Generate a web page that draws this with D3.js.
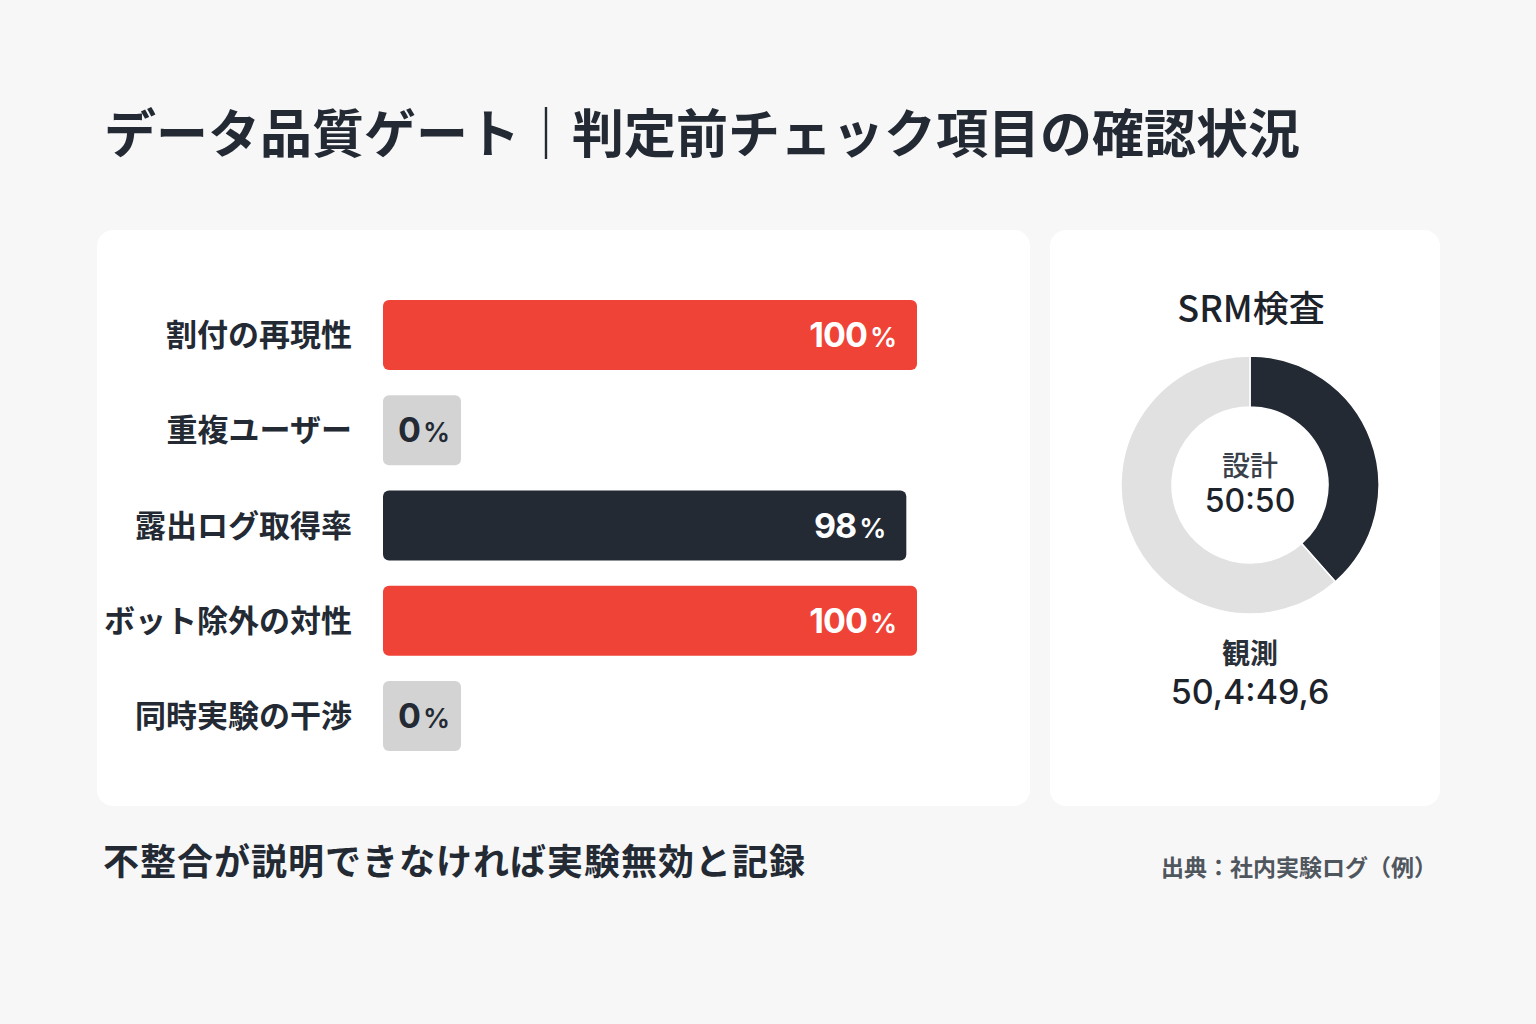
<!DOCTYPE html>
<html lang="ja">
<head>
    <meta charset="UTF-8">
    <title>データ品質ゲート</title>
    <style>
        html, body { margin: 0; padding: 0; background: #f7f7f7; }
        svg { display: block; }
        text { font-family: "Noto Sans CJK JP", "Noto Sans", sans-serif; }
        .num { font-family: Inter, "Noto Sans", sans-serif; }
    </style>
    <script src="https://cdn.jsdelivr.net/npm/d3@7"></script>
</head>
<body>
<script>
// data
var titleText = "データ品質ゲート｜判定前チェック項目の確認状況";
var checkItems = ["割付の再現性", "重複ユーザー", "露出ログ取得率", "ボット除外の対性", "同時実験の干渉"];
var checkValues = [100, 0, 98, 100, 0];
var srmTitle = "SRM検査";
var srmParts = ["観測A", "観測B"];
var srmShares = [38.5, 61.5];
var designLabel = "設計";
var designRatio = "50:50";
var observedLabel = "観測";
var observedRatio = "50,4:49,6";
var footNote = "不整合が説明できなければ実験無効と記録";
var sourceText = "出典：社内実験ログ（例）";

var W = 1536, H = 1024;
var red = "#ef4338", dark = "#232a34", chip = "#d3d3d3", ring = "#e1e1e1";

var svg = d3.select("body").append("svg")
    .attr("width", W)
    .attr("height", H);

svg.append("rect").attr("width", W).attr("height", H).attr("fill", "#f7f7f7");

// title
svg.append("text")
    .attr("x", 104)
    .attr("y", 153)
    .attr("font-size", 52)
    .attr("font-weight", 700)
    .attr("fill", "#232a34")
    .text(titleText);

// cards
svg.append("rect")
    .attr("x", 97).attr("y", 230)
    .attr("width", 933).attr("height", 576)
    .attr("rx", 16)
    .attr("fill", "#ffffff");

svg.append("rect")
    .attr("x", 1050).attr("y", 230)
    .attr("width", 390).attr("height", 576)
    .attr("rx", 16)
    .attr("fill", "#ffffff");

// bar chart
var x = d3.scaleLinear().domain([0, 100]).range([383, 917]);
var y = d3.scaleBand().domain(checkItems).range([300, 751]).paddingInner(0.265).paddingOuter(0);
var minChip = 78;

function barColor(v) {
    if (v === 0) return chip;
    if (v === 100) return red;
    return dark;
}

var rows = svg.append("g").selectAll("g")
    .data(checkItems.map(function(c, i) { return {name: c, value: checkValues[i]}; }))
    .join("g");

rows.append("text")
    .attr("x", 352)
    .attr("y", d => y(d.name) + y.bandwidth() / 2)
    .attr("dy", "0.36em")
    .attr("text-anchor", "end")
    .attr("font-size", 31)
    .attr("font-weight", 700)
    .attr("fill", "#232a34")
    .text(d => d.name);

rows.append("rect")
    .attr("x", x(0))
    .attr("y", d => y(d.name))
    .attr("width", d => Math.max(minChip, x(d.value) - x(0)))
    .attr("height", y.bandwidth())
    .attr("rx", 6)
    .attr("fill", d => barColor(d.value));

var valText = rows.append("text")
    .attr("class", "num")
    .attr("x", d => d.value === 0 ? x(0) + minChip / 2 + 2 : x(d.value) - 20)
    .attr("y", d => y(d.name) + y.bandwidth() / 2 + 12)
    .attr("font-size", 34)
    .attr("text-anchor", d => d.value === 0 ? "middle" : "end")
    .attr("font-weight", 700)
    .attr("fill", d => d.value === 0 ? dark : "#ffffff");

valText.append("tspan")
    .attr("letter-spacing", -1)
    .text(d => d.value);
valText.append("tspan")
    .attr("font-size", 27)
    .attr("font-weight", 600)
    .attr("dx", 3)
    .text("%");

// donut
var cx = 1250, cy = 485;
var pie = d3.pie().sort(null).value(d => d);
var arc = d3.arc().innerRadius(78).outerRadius(129);

svg.append("text")
    .attr("x", 1251)
    .attr("y", 322)
    .attr("text-anchor", "middle")
    .attr("font-size", 36)
    .attr("font-weight", 500)
    .attr("fill", "#1d232b")
    .text(srmTitle);

var donut = svg.append("g").attr("transform", "translate(" + cx + "," + cy + ")");
donut.selectAll("path")
    .data(pie(srmShares))
    .join("path")
    .attr("d", arc)
    .attr("fill", (d, i) => i === 0 ? dark : ring)
    .attr("stroke", "#ffffff")
    .attr("stroke-width", 1.5)
    .append("title").text((d, i) => srmParts[i]);

svg.append("text")
    .attr("x", cx).attr("y", 476)
    .attr("text-anchor", "middle")
    .attr("font-size", 28)
    .attr("font-weight", 500)
    .attr("fill", "#3a414a")
    .text(designLabel);

svg.append("text")
    .attr("class", "num")
    .attr("x", cx).attr("y", 512)
    .attr("text-anchor", "middle")
    .attr("font-size", 32)
    .attr("font-weight", 500)
    .attr("fill", "#1d232b")
    .text(designRatio);

svg.append("text")
    .attr("x", cx).attr("y", 664)
    .attr("text-anchor", "middle")
    .attr("font-size", 28)
    .attr("font-weight", 700)
    .attr("fill", "#2a3038")
    .text(observedLabel);

svg.append("text")
    .attr("class", "num")
    .attr("x", cx).attr("y", 704)
    .attr("text-anchor", "middle")
    .attr("font-size", 34)
    .attr("font-weight", 500)
    .attr("fill", "#1d232b")
    .text(observedRatio);

// footer
svg.append("text")
    .attr("x", 103)
    .attr("y", 875)
    .attr("font-size", 36)
    .attr("font-weight", 700)
    .attr("letter-spacing", 1)
    .attr("fill", "#232a34")
    .text(footNote);

svg.append("text")
    .attr("x", 1437)
    .attr("y", 876)
    .attr("text-anchor", "end")
    .attr("font-size", 23)
    .attr("font-weight", 700)
    .attr("fill", "#50565e")
    .text(sourceText);
</script>
</body>
</html>
